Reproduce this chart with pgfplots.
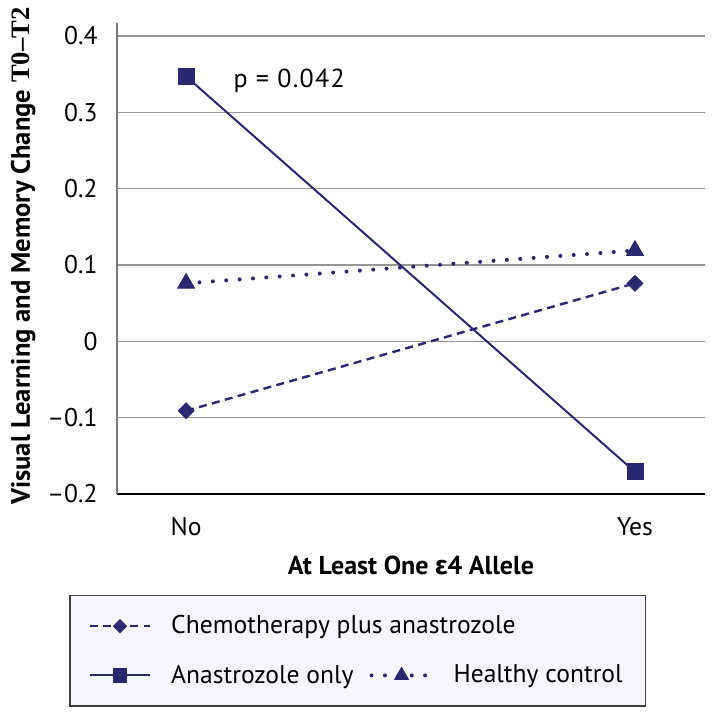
\documentclass[border=0pt]{standalone}
\usepackage{pgfplots}
\pgfplotsset{compat=1.18}
\usepackage{fontspec}
\setmainfont{PT Sans}
\newfontfamily\pfont{PT Sans}[LetterSpace=5]
\newfontfamily\greekfont{Fira Sans}
\newfontfamily\seriffont{Liberation Serif}
\definecolor{navy}{RGB}{42,40,110}
\definecolor{gridgray}{RGB}{150,150,150}
\definecolor{legfill}{RGB}{246,246,252}
\newcommand\fs{\fontsize{12.8pt}{15pt}\selectfont}
\newcommand\lfs{\fontsize{13pt}{15pt}\selectfont}
\newcommand\yfs{\fontsize{13.3pt}{16pt}\selectfont}
\begin{document}
\begin{tikzpicture}
\begin{axis}[
  scale only axis,
  width=294pt, height=235.5pt,
  xmin=-0.154, xmax=1.156,
  ymin=-0.2, ymax=0.417,
  axis lines*=left,
  x axis line style={black, line width=1.2pt},
  y axis line style={gridgray!80!black, line width=0.8pt},
  major tick length=0pt,
  xtick={0,1}, xticklabels={No,Yes},
  ytick={-0.2,-0.1,0,0.1,0.2,0.3,0.4},
  yticklabels={–0.2,–0.1,0,0.1,0.2,0.3,0.4},
  ymajorgrids,
  major grid style={gridgray, line width=0.75pt},
  tick label style={font=\fs},
  yticklabel style={inner sep=0pt, xshift=-9.5pt},
  xticklabel style={inner sep=0pt, yshift=-11.5pt},
  xlabel={At Least One {\greekfont\bfseries ε}4 Allele},
  ylabel={Visual Learning and Memory Change {\seriffont\bfseries T0–T2}},
  xlabel style={font=\lfs\bfseries, at={(axis description cs:0.5,-0.17)}, anchor=base},
  ylabel style={font=\yfs\bfseries, at={(axis description cs:-0.148,0.505)}, anchor=base},
  clip=false,
  legend columns=2,
  legend cell align=left,
  legend style={at={(axis description cs:-0.0816,-0.214)}, anchor=north west,
    draw=black!75, line width=0.8pt, fill=legfill, font=\fs,
    inner xsep=9.5pt, inner ysep=8pt, row sep=10pt,
    /tikz/every odd column/.append style={column sep=8pt},
    /tikz/every even column/.append style={column sep=6pt}},
  legend image code/.code={%
    \draw[mark repeat=2, mark phase=2, #1, /tikz/every mark/.append style={scale=0.82}]
      plot coordinates {(0pt,0pt) (15pt,0pt) (30pt,0pt)};},
]
\addplot[navy, line width=1.2pt, dash pattern=on 4pt off 2.7pt, mark=square*, mark size=2.8pt,
  mark options={solid, line width=0.4pt, rotate=45}]
  coordinates {(0,-0.091) (1,0.076)};
\addlegendentry{\rlap{Chemotherapy plus anastrozole}}
\addlegendimage{empty legend}
\addlegendentry{}
\addplot[navy, line width=1pt, mark=square*, mark size=4pt,
  mark options={solid, line width=0.4pt}]
  coordinates {(0,0.347) (1,-0.171)};
\addlegendentry{Anastrozole only}
\addplot[navy, line width=2pt, line cap=round, dash pattern=on 0pt off 6.7pt, mark=triangle*, mark size=4.9pt,
  mark options={solid, line width=0.4pt}]
  coordinates {(0,0.076) (1,0.119)};
\addlegendentry{Healthy control}
\node[anchor=base west, font=\pfont\lfs, inner sep=0pt] at (axis cs:0.105,0.332) {p = 0.042};
\coordinate (sw) at (rel axis cs:0,0);
\end{axis}
\pgfresetboundingbox
\path[use as bounding box] (sw) ++(-58.5pt,-109pt) rectangle ++(357pt,356pt);
\end{tikzpicture}
\end{document}
